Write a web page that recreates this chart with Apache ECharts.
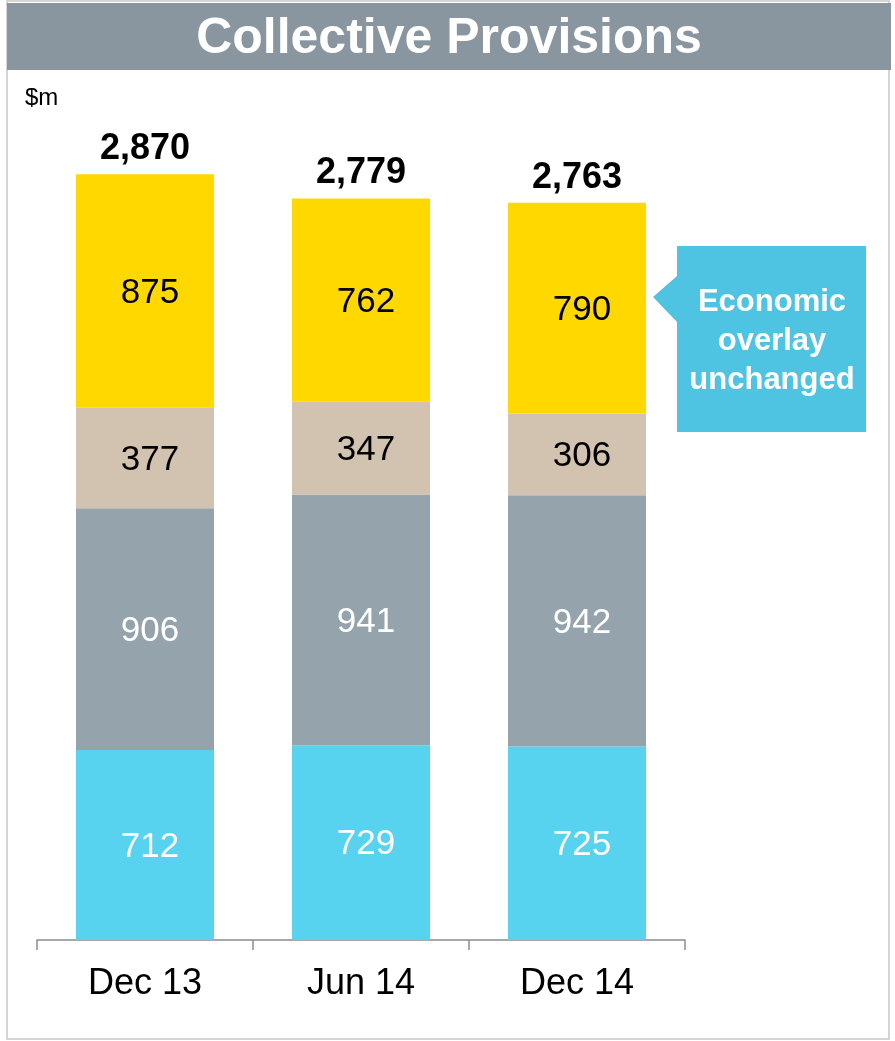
<!DOCTYPE html>
<html>
<head>
<meta charset="utf-8">
<script src="https://cdn.jsdelivr.net/npm/echarts@6/dist/echarts.min.js"></script>
<style>
  html, body { margin: 0; padding: 0; background: #ffffff; }
  #chart { width: 895px; height: 1041px; }
</style>
</head>
<body>
<div id="chart"></div>
<script>
// Collective provisions by period, $m, stacked from the bottom up
const categories = ['Dec 13', 'Jun 14', 'Dec 14'];
const segmentNames = ['Segment 1', 'Segment 2', 'Segment 3', 'Economic overlay'];
const segment1 = [712, 729, 725];
const segment2 = [906, 941, 942];
const segment3 = [377, 347, 306];
const overlay = [875, 762, 790];

const segmentValues = [segment1, segment2, segment3, overlay];
const segmentColors = ['#57D2EF', '#95A3AD', '#D1C3AF', '#FFD800'];
const labelColors = ['#ffffff', '#ffffff', '#000000', '#000000'];

const totals = categories.map((_, i) => segmentValues.reduce((s, arr) => s + arr[i], 0));

const FONT = 'Arial, "Liberation Sans", sans-serif';

const chart = echarts.init(document.getElementById('chart'), null, { renderer: 'canvas' });

const barSeries = segmentValues.map((vals, k) => ({
  name: segmentNames[k],
  type: 'bar',
  stack: 'total',
  barWidth: 138,
  data: vals,
  itemStyle: { color: segmentColors[k] },
  label: {
    show: true,
    position: 'inside',
    offset: [5, 2],
    color: labelColors[k],
    fontFamily: FONT,
    fontSize: 35,
    formatter: p => p.value
  },
  emphasis: { disabled: true },
  animation: false
}));

// Totals drawn as an invisible point at the top of each stack
const totalSeries = {
  name: 'Total',
  type: 'scatter',
  symbolSize: 0,
  data: totals,
  itemStyle: { opacity: 1 },
  label: {
    show: true,
    position: 'top',
    distance: 7,
    color: '#000000',
    opacity: 1,
    fontFamily: FONT,
    fontSize: 36,
    fontWeight: 'bold',
    formatter: p => p.value.toLocaleString('en-US')
  },
  emphasis: { disabled: true },
  z: 5,
  animation: false
};

const option = {
  backgroundColor: '#ffffff',
  animation: false,
  grid: { left: 37, width: 648, top: 139.5, bottom: 101, containLabel: false },
  xAxis: {
    type: 'category',
    data: categories,
    boundaryGap: true,
    axisLine: { show: true, lineStyle: { color: '#8c8c8c', width: 1.5 } },
    axisTick: { show: true, length: 10, lineStyle: { color: '#8c8c8c', width: 1.5 } },
    axisLabel: { color: '#000000', fontFamily: FONT, fontSize: 36, margin: 26 }
  },
  yAxis: {
    type: 'value',
    min: 0,
    max: 3000,
    show: false,
    splitLine: { show: false }
  },
  series: [...barSeries, totalSeries],
  graphic: [
    // outer frame
    {
      type: 'rect',
      shape: { x: 7, y: 1, width: 882, height: 1038 },
      style: { fill: 'none', stroke: '#c8c8c8', lineWidth: 1.5 },
      z: 1
    },
    // title band
    {
      type: 'rect',
      shape: { x: 7, y: 3, width: 884, height: 67 },
      style: { fill: '#8A969F' },
      z: 2
    },
    {
      type: 'text',
      x: 449, y: 39,
      style: {
        text: 'Collective Provisions',
        fill: '#ffffff',
        font: 'bold 50px ' + FONT,
        textAlign: 'center',
        textVerticalAlign: 'middle'
      },
      z: 3
    },
    // unit
    {
      type: 'text',
      x: 25, y: 98,
      style: {
        text: '$m',
        fill: '#000000',
        font: '24px ' + FONT,
        textAlign: 'left',
        textVerticalAlign: 'middle'
      },
      z: 3
    },
    // callout pointing at the overlay segment
    {
      type: 'polygon',
      shape: { points: [[653, 297], [677, 276], [677, 246], [866, 246], [866, 432], [677, 432], [677, 322]] },
      style: { fill: '#4FC3E2' },
      z: 3
    },
    {
      type: 'text',
      x: 772, y: 341,
      style: {
        text: 'Economic\noverlay\nunchanged',
        fill: '#ffffff',
        font: 'bold 31px ' + FONT,
        lineHeight: 39,
        textAlign: 'center',
        textVerticalAlign: 'middle'
      },
      z: 4
    }
  ]
};

chart.setOption(option);
</script>
</body>
</html>
